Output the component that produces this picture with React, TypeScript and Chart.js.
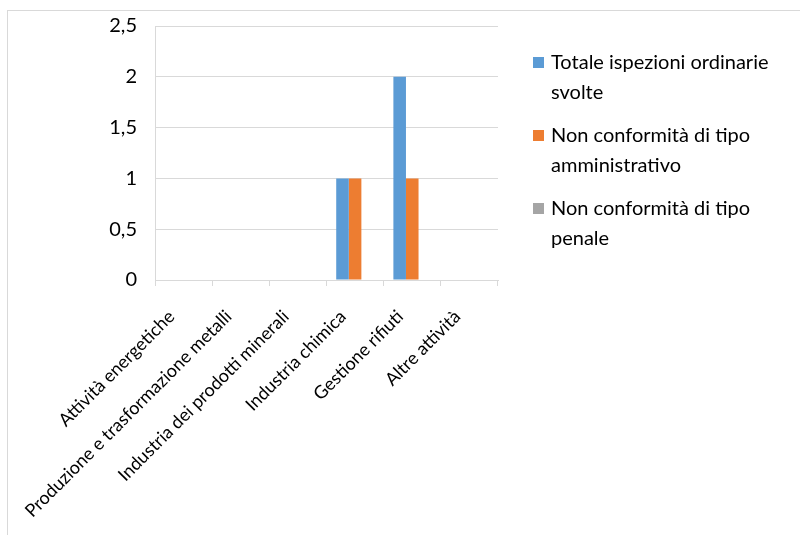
import React, { useEffect, useRef } from "react";
import { Chart, registerables } from "chart.js";

Chart.register(...registerables);

const categories = [
  "Attività energetiche",
  "Produzione e trasformazione metalli",
  "Industria dei prodotti minerali",
  "Industria chimica",
  "Gestione rifiuti",
  "Altre attività",
];
const totaleIspezioni = [0, 0, 0, 1, 2, 0];
const nonConformitaAmministrativo = [0, 0, 0, 1, 1, 0];
const nonConformitaPenale = [0, 0, 0, 0, 0, 0];
const seriesNames = [
  ["Totale ispezioni ordinarie", "svolte"],
  ["Non conformità di tipo", "amministrativo"],
  ["Non conformità di tipo", "penale"],
];
const seriesColors = ["#5b9bd5", "#ed7d31", "#a5a5a5"];
const FONT = "Lato, 'Open Sans', sans-serif";

const legendPlugin = {
  id: "sideLegend",
  afterDraw(chart: any) {
    const { ctx, chartArea } = chart;
    const boxX = chartArea.right + 35;
    const textX = boxX + 18;
    const firstY = 63;
    const itemGap = 73;
    const lineGap = 30;
    ctx.save();
    ctx.font = `20px ${FONT}`;
    ctx.textBaseline = "middle";
    ctx.textAlign = "left";
    chart.data.datasets.forEach((ds: any, i: number) => {
      const y = firstY + i * itemGap;
      ctx.fillStyle = seriesColors[i];
      ctx.fillRect(boxX, y - 6, 11, 11);
      ctx.fillStyle = "#000";
      seriesNames[i].forEach((line, j) => {
        ctx.fillText(line, textX, y + j * lineGap);
      });
    });
    ctx.restore();
  },
};

export default function App() {
  const ref = useRef<HTMLCanvasElement>(null);
  useEffect(() => {
    if (!ref.current) return;
    const chart = new Chart(ref.current, {
      type: "bar",
      data: {
        labels: categories,
        datasets: [
          { label: seriesNames[0].join(" "), data: totaleIspezioni, backgroundColor: seriesColors[0] },
          { label: seriesNames[1].join(" "), data: nonConformitaAmministrativo, backgroundColor: seriesColors[1] },
          { label: seriesNames[2].join(" "), data: nonConformitaPenale, backgroundColor: seriesColors[2] },
        ],
      },
      plugins: [legendPlugin],
      options: {
        animation: false,
        responsive: false,
        maintainAspectRatio: false,
        datasets: { bar: { categoryPercentage: 0.66, barPercentage: 1.0 } },
        layout: { padding: { left: 85, top: 26, right: 302, bottom: 0 } },
        scales: {
          x: {
            afterFit: (s: any) => {
              s.paddingLeft = 0;
              s.paddingRight = 0;
              s.height = 255;
            },
            grid: { offset: true, drawOnChartArea: false, tickLength: 6, color: "#d9d9d9" },
            border: { display: true, color: "#d9d9d9" },
            ticks: {
              minRotation: 45,
              maxRotation: 45,
              color: "#000",
              padding: 20,
              labelOffset: -12,
              font: { family: FONT, size: 18 },
              autoSkip: false,
            },
          },
          y: {
            afterFit: (s: any) => {
              s.width = 70;
              s.paddingTop = 0;
              s.paddingBottom = 0;
            },
            min: 0,
            max: 2.5,
            grid: { color: "#d9d9d9", drawTicks: false },
            border: { display: true, color: "#d9d9d9" },
            ticks: {
              stepSize: 0.5,
              padding: 18,
              color: "#000",
              font: { family: FONT, size: 20 },
              callback: (v: any) => String(v).replace(".", ","),
            },
          },
        },
        plugins: {
          tooltip: { enabled: false },
          legend: { display: false },
        },
      },
    });
    return () => chart.destroy();
  }, []);
  return (
    <div style={{ position: "fixed", left: 0, top: 0, width: 800, height: 535, background: "#fff" }}>
      <div
        style={{
          position: "absolute",
          left: 7,
          top: 10,
          width: 820,
          height: 560,
          border: "1px solid #d9d9d9",
          boxSizing: "border-box",
        }}
      />
      <canvas ref={ref} width={800} height={535} style={{ position: "absolute", left: 0, top: 0 }} />
    </div>
  );
}
